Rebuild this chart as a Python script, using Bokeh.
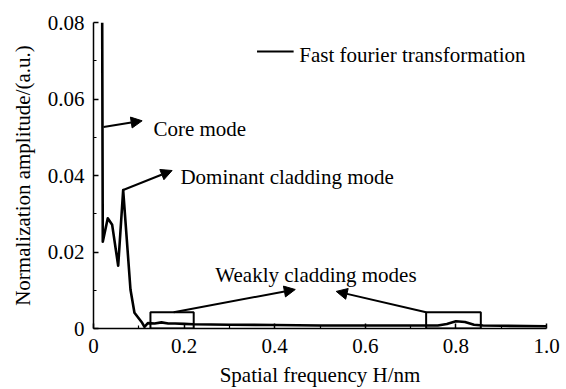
from bokeh.plotting import figure
from bokeh.models import Range1d, FixedTicker, Arrow, NormalHead, Label, CustomJSTickFormatter
from bokeh.embed import file_html
from bokeh.resources import INLINE

# ---- data ----
freq = [0.0192, 0.0205, 0.0315, 0.0412, 0.0545, 0.0655, 0.0816, 0.0904, 0.1074,
        0.1125, 0.120, 0.135, 0.150, 0.165, 0.180, 0.200, 0.220, 0.300, 0.400,
        0.500, 0.600, 0.700, 0.760, 0.780, 0.800, 0.820, 0.840, 0.860, 0.900, 1.000]
amp = [0.0800, 0.0227, 0.0288, 0.0271, 0.0164, 0.0362, 0.0102, 0.0041, 0.0015,
       0.0004, 0.0014, 0.0013, 0.0016, 0.0013, 0.0013, 0.0012, 0.0011, 0.0010, 0.0009,
       0.0008, 0.0008, 0.0008, 0.0008, 0.0012, 0.0019, 0.0017, 0.0010, 0.0008, 0.0007, 0.0006]

x_ticks = [0, 0.2, 0.4, 0.6, 0.8, 1.0]
x_tick_labels = ["0", "0.2", "0.4", "0.6", "0.8", "1.0"]
x_minor = [0.1, 0.3, 0.5, 0.7, 0.9]
y_ticks = [0, 0.02, 0.04, 0.06, 0.08]
y_tick_labels = ["0", "0.02", "0.04", "0.06", "0.08"]
y_minor = [0.01, 0.03, 0.05, 0.07]

box_left = [0.1257, 0.7343]
box_right = [0.2212, 0.855]
box_top = [0.00425, 0.00425]
box_bottom = [0.0, 0.0]

# annotation texts and arrows (start x, start y, end x, end y)
ann_texts = ["Core mode", "Dominant cladding mode", "Weakly cladding modes"]
ann_x = [0.1323, 0.1918, 0.269]
ann_y = [0.0521, 0.0397, 0.01407]
arrows = [(0.0221, 0.0527, 0.1074, 0.0543),
          (0.0655, 0.0362, 0.1735, 0.0413),
          (0.177, 0.00425, 0.4454, 0.0102),
          (0.7343, 0.00425, 0.5358, 0.0097)]

FONT = "'Liberation Serif', 'Times New Roman', serif"
FS = "21px"

p = figure(width=566, height=389, output_backend="svg", toolbar_location=None,
           x_range=Range1d(0, 1.0), y_range=Range1d(0, 0.08),
           min_border_left=93, min_border_right=20, min_border_top=22, min_border_bottom=60)
p.outline_line_color = None
p.xgrid.visible = False
p.ygrid.visible = False
p.background_fill_color = "white"
p.border_fill_color = "white"

p.line(freq, amp, line_color="black", line_width=2.6, line_join="round")
p.quad(left=box_left, right=box_right, top=box_top, bottom=box_bottom,
       fill_alpha=0, line_color="black", line_width=2)

for (x0, y0, x1, y1) in arrows:
    p.add_layout(Arrow(x_start=x0, y_start=y0, x_end=x1, y_end=y1, line_width=2,
                       line_color="black",
                       end=NormalHead(size=11, fill_color="black", line_color="black")))

for t, x, y in zip(ann_texts, ann_x, ann_y):
    p.add_layout(Label(x=x, y=y, text=t, text_font=FONT, text_font_size=FS,
                       text_color="black", text_baseline="alphabetic"))

# legend
p.line([0.361, 0.4418], [0.07244, 0.07244], line_color="black", line_width=2)
p.add_layout(Label(x=0.4542, y=0.0714, text="Fast fourier transformation",
                   text_font=FONT, text_font_size=FS, text_color="black",
                   text_baseline="alphabetic"))

fmt_code = """
let best = 0, bd = Infinity;
for (let i = 0; i < tvals.length; i++) {
  const d = Math.abs(tvals[i] - tick);
  if (d < bd) { bd = d; best = i; }
}
return tlabels[best];
"""

# axes
for ax, ticks, minor, labels in [(p.xaxis[0], x_ticks, x_minor, x_tick_labels),
                                  (p.yaxis[0], y_ticks, y_minor, y_tick_labels)]:
    ax.ticker = FixedTicker(ticks=ticks, minor_ticks=minor)
    ax.formatter = CustomJSTickFormatter(args=dict(tvals=ticks, tlabels=labels), code=fmt_code)
    ax.axis_line_color = "black"
    ax.axis_line_width = 1.5
    ax.major_tick_in = 5
    ax.major_tick_out = 0
    ax.minor_tick_in = 3
    ax.minor_tick_out = 0
    ax.major_tick_line_width = 1.5
    ax.minor_tick_line_width = 1.2
    ax.major_label_text_font = FONT
    ax.major_label_text_font_size = FS
    ax.major_label_text_color = "black"
    ax.axis_label_text_font = FONT
    ax.axis_label_text_font_size = FS
    ax.axis_label_text_font_style = "normal"
    ax.axis_label_text_color = "black"

p.yaxis[0].axis_label = "Normalization amplitude/(a.u.)"
p.yaxis[0].major_label_standoff = 9
p.yaxis[0].axis_label_standoff = 10
p.xaxis[0].axis_label = "Spatial frequency H/nm"
p.xaxis[0].major_label_standoff = 10
p.xaxis[0].axis_label_standoff = 7

open("out.html", "w").write(file_html(p, INLINE))
